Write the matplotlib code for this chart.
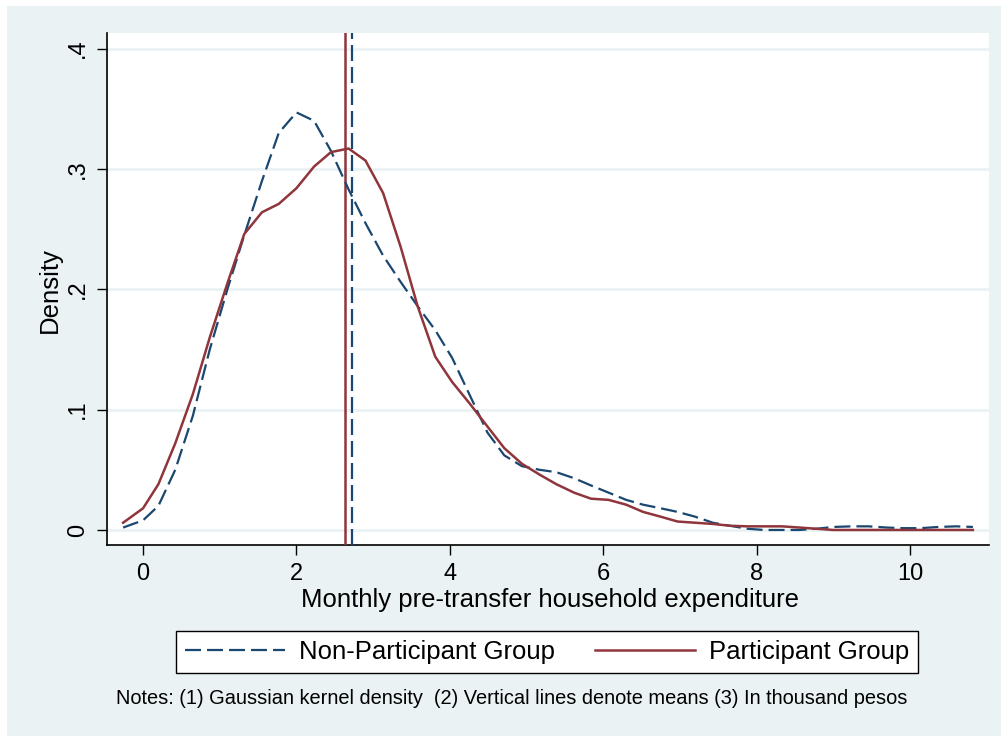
"""Kernel density of pre-transfer household expenditure, participants vs non-participants."""

import matplotlib
matplotlib.use("Agg")
import matplotlib.pyplot as plt
from matplotlib.lines import Line2D
from matplotlib.patches import Rectangle

# evaluation grid of the kernel density (thousand pesos)
grid = [-0.26, 0.0, 0.2, 0.42, 0.65, 0.87, 1.1, 1.32, 1.55, 1.77,
        2.0, 2.23, 2.45, 2.68, 2.9, 3.13, 3.36, 3.58, 3.81, 4.03,
        4.26, 4.49, 4.71, 4.94, 5.17, 5.39, 5.62, 5.84, 6.07, 6.3,
        6.52, 6.75, 6.97, 7.2, 7.43, 7.65, 7.88, 8.1, 8.33, 8.56,
        8.78, 9.0, 9.24, 9.46, 9.7, 9.92, 10.14, 10.37, 10.6, 10.82]

non_participant = [0.002, 0.008, 0.02, 0.05, 0.095, 0.15, 0.2, 0.245, 0.29, 0.33,
                   0.347, 0.34, 0.315, 0.283, 0.255, 0.228, 0.206, 0.186, 0.166, 0.143,
                   0.112, 0.081, 0.062, 0.053, 0.05, 0.048, 0.043, 0.037, 0.031, 0.025,
                   0.021, 0.018, 0.015, 0.011, 0.006, 0.0035, 0.001, 0.0, 0.0, 0.0,
                   0.001, 0.0025, 0.003, 0.003, 0.002, 0.0015, 0.0015, 0.0025, 0.003, 0.0025]

participant = [0.006, 0.018, 0.038, 0.072, 0.113, 0.16, 0.205, 0.246, 0.264, 0.271,
               0.284, 0.302, 0.314, 0.317, 0.307, 0.28, 0.235, 0.186, 0.144, 0.123,
               0.105, 0.086, 0.068, 0.055, 0.046, 0.038, 0.031, 0.026, 0.025, 0.021,
               0.015, 0.011, 0.007, 0.006, 0.005, 0.0035, 0.003, 0.003, 0.003, 0.002,
               0.001, 0.0, 0.0, 0.0, 0.0, 0.0, 0.0, 0.0, 0.0, 0.0]

mean_non_participant = 2.72
mean_participant = 2.63

xticks = [0, 2, 4, 6, 8, 10]
yticks = [0, 0.1, 0.2, 0.3, 0.4]
ytick_labels = ["0", ".1", ".2", ".3", ".4"]

NAVY = "#1a476f"
MAROON = "#90353b"
BG = "#eaf2f3"
LW = 1.6
DASH = (7.2, 2.7)  # scaled by linewidth
FONT = ["Liberation Sans", "DejaVu Sans"]
plt.rcParams["font.family"] = FONT

W, H = 1001, 736
fig = plt.figure(figsize=(W / 100, H / 100), dpi=100, facecolor="white")
fig.patches.append(Rectangle((7 / W, 0), 1, (H - 6) / H, transform=fig.transFigure,
                             facecolor=BG, edgecolor="none", zorder=-10))

ax = fig.add_axes([107 / W, (H - 545) / H, (989 - 107) / W, (545 - 33) / H])
ax.set_facecolor("white")
ax.set_xlim(-0.47, 11.03)
ax.set_ylim(-0.0125, 0.413)

for y in yticks:
    ax.axhline(y, color=BG, linewidth=2, zorder=1)

ax.axvline(mean_participant, color=MAROON, linewidth=LW + 0.2, zorder=3)
ax.axvline(mean_non_participant, color=NAVY, linewidth=LW, dashes=DASH, zorder=3)
ax.plot(grid, non_participant, color=NAVY, linewidth=LW, dashes=DASH, zorder=4)
ax.plot(grid, participant, color=MAROON, linewidth=LW + 0.2, zorder=4)

for side in ("top", "right"):
    ax.spines[side].set_visible(False)
for side in ("left", "bottom"):
    ax.spines[side].set_linewidth(1.2)

ax.set_xticks(xticks)
ax.set_xticklabels([str(t) for t in xticks], fontsize=17)
ax.set_yticks(yticks)
ax.set_yticklabels(ytick_labels, fontsize=17, rotation=90, va="center")
ax.tick_params(axis="both", length=7, width=1.0, pad=6)

fig.text(50 / W, 1 - 290 / H, "Density", rotation=90, fontsize=18.5,
         ha="center", va="center")
fig.text(550 / W, 1 - 600 / H, "Monthly pre-transfer household expenditure",
         fontsize=18.5, ha="center", va="center")

handles = [
    Line2D([], [], color=NAVY, linewidth=LW, dashes=DASH),
    Line2D([], [], color=MAROON, linewidth=LW + 0.2),
]
leg = fig.legend(handles, ["Non-Participant Group", "Participant Group"],
                 loc="center", bbox_to_anchor=(547 / W, 1 - 652 / H), ncol=2,
                 fontsize=18.5, frameon=True, fancybox=False, framealpha=1,
                 handlelength=3.9, handletextpad=0.55, columnspacing=1.55,
                 borderpad=0.35)
leg.get_frame().set_edgecolor("black")
leg.get_frame().set_linewidth(1.0)

fig.text(512 / W, 1 - 698 / H,
         "Notes: (1) Gaussian kernel density  (2) Vertical lines denote means (3) In thousand pesos",
         fontsize=14.4, ha="center", va="center")

fig.savefig("out.png", dpi=100, facecolor="white")
